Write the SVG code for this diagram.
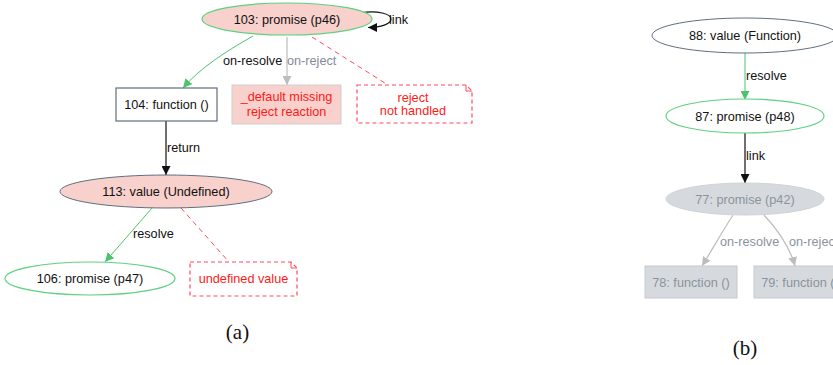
<svg xmlns="http://www.w3.org/2000/svg" width="833" height="365" viewBox="0 0 833 365">
<style>
text{font-family:"Liberation Sans",Arial,sans-serif;font-size:12.7px;text-anchor:middle;fill:#111}
.lbl{text-anchor:start}
.red{fill:#ff1a1a}
.gtxt{fill:#8b939b}
.gray-lbl{fill:#7f8b98}
.cap{font-family:"Liberation Serif","Times New Roman",serif;font-size:21px;fill:#111}
.e-green{fill:none;stroke:#4cc46c;stroke-width:1}
.e-black{fill:none;stroke:#111;stroke-width:1.2}
.e-gray{fill:none;stroke:#bdbdbd;stroke-width:1.2}
.e-red{fill:none;stroke:#ff4a5e;stroke-width:1;stroke-dasharray:5,4}
.note{fill:#fff;stroke:#ff4a5e;stroke-width:1.2;stroke-dasharray:4,3}
.pink{fill:#f8d0cc}
</style>
<defs>
<marker id="ag" viewBox="0 0 10 10" refX="10" refY="5" markerWidth="9" markerHeight="9" markerUnits="userSpaceOnUse" orient="auto"><path d="M0,0 L10,5 L0,10 Z" fill="#4cc46c"/></marker>
<marker id="ab" viewBox="0 0 10 10" refX="10" refY="5" markerWidth="9" markerHeight="9" markerUnits="userSpaceOnUse" orient="auto"><path d="M0,0 L10,5 L0,10 Z" fill="#111"/></marker>
<marker id="ay" viewBox="0 0 10 10" refX="10" refY="5" markerWidth="9" markerHeight="9" markerUnits="userSpaceOnUse" orient="auto"><path d="M0,0 L10,5 L0,10 Z" fill="#bdbdbd"/></marker>
</defs>

<g id="connectors">
  <!-- (a) -->
  <path class="e-black" d="M360,13 C378,10 391,14 391,19 C391,24 381,27.5 368,27.5" marker-end="url(#ab)"/>
  <text class="lbl" x="389" y="24">link</text>
  <path class="e-green" d="M253,36 C225,52 200,68 183,88" marker-end="url(#ag)"/>
  <text class="lbl" x="223" y="65">on-resolve</text>
  <path class="e-gray" d="M287,37 L287,85" marker-end="url(#ay)"/>
  <text class="lbl gray-lbl" x="287" y="65">on-reject</text>
  <path class="e-red" d="M312,37 L388,85"/>
  <path class="e-black" d="M166,121 L166,175" marker-end="url(#ab)"/>
  <text class="lbl" x="167" y="152">return</text>
  <path class="e-green" d="M152,208 L105,262" marker-end="url(#ag)"/>
  <text class="lbl" x="133" y="238">resolve</text>
  <path class="e-red" d="M181,208 L229,262"/>
  <!-- (b) -->
  <path class="e-green" d="M745,53 L745,100" marker-end="url(#ag)"/>
  <text class="lbl" x="746" y="80">resolve</text>
  <path class="e-black" d="M745,133 L745,183" marker-end="url(#ab)"/>
  <text class="lbl" x="746" y="160">link</text>
  <path class="e-gray" d="M733,215 C722,232 712,250 702,266" marker-end="url(#ay)"/>
  <text class="lbl gtxt" x="720" y="246">on-resolve</text>
  <path class="e-gray" d="M764,215 C778,230 790,248 795,266" marker-end="url(#ay)"/>
  <text class="lbl gtxt" x="789" y="246">on-reject</text>
</g>

<g id="n103">
  <ellipse class="pink" cx="287" cy="19" rx="85" ry="16" stroke="#5fd080" stroke-width="1.2"/>
  <text x="287" y="23.5">103: promise (p46)</text>
</g>
<g id="n104">
  <rect x="116" y="88" width="101" height="33" fill="#fff" stroke="#5f6f7f" stroke-width="1.2"/>
  <text x="166.5" y="109">104: function ()</text>
</g>
<g id="ndefault">
  <rect x="232" y="85" width="109" height="39" class="pink" stroke="#cfcfcf" stroke-width="1"/>
  <text class="red" x="286.5" y="101">_default missing</text>
  <text class="red" x="286.5" y="116">reject reaction</text>
</g>
<g id="nreject">
  <path class="note" d="M357,85 L466,85 L472,91 L472,123 L357,123 Z"/>
  <path fill="none" stroke="#ff4a5e" stroke-width="1" d="M466,85 L466,91 L472,91"/>
  <text class="red" x="413" y="102">reject</text>
  <text class="red" x="413" y="115">not handled</text>
</g>
<g id="n113">
  <ellipse class="pink" cx="166" cy="191.5" rx="106" ry="16.5" stroke="#5f6f7f" stroke-width="1"/>
  <text x="166" y="196">113: value (Undefined)</text>
</g>
<g id="n106">
  <ellipse cx="90" cy="278.5" rx="85" ry="16.5" fill="#fff" stroke="#5fd080" stroke-width="1.2"/>
  <text x="90" y="283">106: promise (p47)</text>
</g>
<g id="nundef">
  <path class="note" d="M190,262 L291,262 L297,268 L297,296 L190,296 Z"/>
  <path fill="none" stroke="#ff4a5e" stroke-width="1" d="M291,262 L291,268 L297,268"/>
  <text class="red" x="243.5" y="283">undefined value</text>
</g>
<text class="cap" x="237.5" y="339">(a)</text>

<g id="n88">
  <ellipse cx="745" cy="35.5" rx="93" ry="17.5" fill="#fff" stroke="#5f6f7f" stroke-width="1"/>
  <text x="745" y="40">88: value (Function)</text>
</g>
<g id="n87">
  <ellipse cx="745" cy="116" rx="79" ry="17" fill="#fff" stroke="#5fd080" stroke-width="1.2"/>
  <text x="745" y="120.5">87: promise (p48)</text>
</g>
<g id="n77">
  <ellipse cx="745" cy="199" rx="79" ry="16" fill="#d6dadf" stroke="#cfd3d8" stroke-width="1"/>
  <text class="gtxt" x="745" y="203.5">77: promise (p42)</text>
</g>
<g id="n78">
  <rect x="645" y="266" width="92" height="32" fill="#d6dadf" stroke="#c6cacf" stroke-width="1"/>
  <text class="gtxt" x="691" y="286.5">78: function ()</text>
</g>
<g id="n79">
  <rect x="754" y="266" width="92" height="32" fill="#d6dadf" stroke="#c6cacf" stroke-width="1"/>
  <text class="gtxt" x="800" y="286.5">79: function ()</text>
</g>
<text class="cap" x="745" y="355">(b)</text>
</svg>
